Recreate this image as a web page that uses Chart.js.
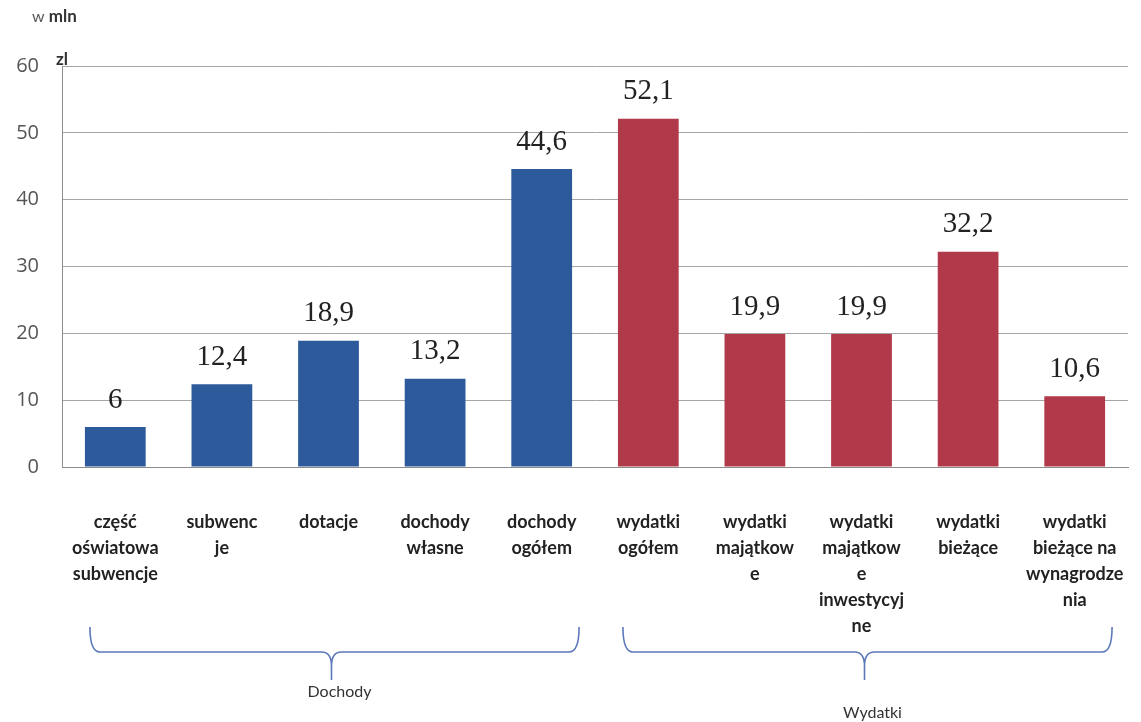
<!DOCTYPE html>
<html>
<head>
<meta charset="utf-8">
<script src="https://cdn.jsdelivr.net/npm/chart.js@4.4.1/dist/chart.umd.min.js"></script>
<style>
html,body{margin:0;padding:0;background:#fff;}
#wrap{width:1141px;height:722px;position:relative;}
</style>
</head>
<body>
<div id="wrap"><canvas id="c" width="1141" height="722"></canvas></div>
<script>
// ---- data ----
const categories = [
  ["część", "oświatowa", "subwencje"],
  ["subwenc", "je"],
  ["dotacje"],
  ["dochody", "własne"],
  ["dochody", "ogółem"],
  ["wydatki", "ogółem"],
  ["wydatki", "majątkow", "e"],
  ["wydatki", "majątkow", "e", "inwestycyj", "ne"],
  ["wydatki", "bieżące"],
  ["wydatki", "bieżące na", "wynagrodze", "nia"]
];
const values = [6, 12.4, 18.9, 13.2, 44.6, 52.1, 19.9, 19.9, 32.2, 10.6];
const groupNames = ["Dochody", "Wydatki"];
const groupStart = [0, 5];
const groupEnd = [4, 9];
const yTicks = [0, 10, 20, 30, 40, 50, 60];
const unitLabel = ["w", "mln", "zl"];

const BLUE = "#2c5a9b";
const RED = "#b03a4a";
const barColors = values.map((v, i) => i <= groupEnd[0] ? BLUE : RED);

const valueLabels = {
  id: "valueLabels",
  afterDatasetsDraw(chart) {
    const ctx = chart.ctx;
    const meta = chart.getDatasetMeta(0);
    ctx.save();
    ctx.font = '29px "Liberation Serif", serif';
    ctx.fillStyle = "#222";
    ctx.textAlign = "center";
    ctx.textBaseline = "middle";
    meta.data.forEach((bar, i) => {
      ctx.fillText(String(values[i]).replace(".", ","), bar.x, bar.y - 27);
    });
    ctx.restore();
  }
};

const braces = {
  id: "braces",
  afterDraw(chart) {
    const ctx = chart.ctx;
    const meta = chart.getDatasetMeta(0);
    ctx.save();
    ctx.strokeStyle = "#5b78b8";
    ctx.lineWidth = 1.6;
    const yTop = 627, yMid = 652, yTip = 680, r = 10;
    groupNames.forEach((name, g) => {
      const b0 = meta.data[groupStart[g]], b1 = meta.data[groupEnd[g]];
      const x0 = b0.x - b0.width / 2 + 5;
      const x1 = b1.x + b1.width / 2 + 7;
      const xm = (x0 + x1) / 2 - 3;
      ctx.beginPath();
      ctx.moveTo(x0, yTop);
      ctx.quadraticCurveTo(x0, yMid, x0 + r, yMid);
      ctx.lineTo(xm - r, yMid);
      ctx.quadraticCurveTo(xm, yMid, xm, yMid + r + 4);
      ctx.lineTo(xm, yTip);
      ctx.moveTo(xm, yMid + r + 4);
      ctx.quadraticCurveTo(xm, yMid, xm + r, yMid);
      ctx.lineTo(x1 - r, yMid);
      ctx.quadraticCurveTo(x1, yMid, x1, yTop);
      ctx.stroke();
      ctx.fillStyle = "#333";
      ctx.font = '16px Lato, sans-serif';
      ctx.textAlign = "center";
      ctx.textBaseline = "middle";
      ctx.fillText(name, xm + 8, g === 0 ? 692 : 713);
    });
    // unit label top-left
    ctx.textBaseline = "middle";
    ctx.textAlign = "left";
    ctx.fillStyle = "#555";
    ctx.font = '16px Lato, sans-serif';
    ctx.fillText(unitLabel[0], 32, 17);
    const w = ctx.measureText(unitLabel[0] + " ").width;
    ctx.fillStyle = "#333";
    ctx.font = 'bold 17px Lato, sans-serif';
    ctx.fillText(unitLabel[1], 32 + w, 17);
    ctx.fillText(unitLabel[2], 56, 60);
    ctx.restore();
  }
};

new Chart(document.getElementById("c"), {
  type: "bar",
  data: {
    labels: categories,
    datasets: [{
      data: values,
      backgroundColor: barColors,
      borderWidth: 0,
      categoryPercentage: 1.0,
      barPercentage: 0.57
    }]
  },
  options: {
    responsive: false,
    animation: false,
    devicePixelRatio: 1,
    layout: { padding: { left: 12, right: 13, top: 66, bottom: 0 } },
    plugins: { legend: { display: false }, tooltip: { enabled: false } },
    scales: {
      x: {
        grid: { display: false, drawTicks: false },
        border: { display: true, color: "#8c8c8c", width: 1 },
        ticks: {
          color: "#222",
          font: { family: "Lato, sans-serif", size: 18, weight: "bold", lineHeight: 1.45 },
          padding: 42,
          maxRotation: 0,
          autoSkip: false
        },
        afterFit(scale) { scale.height = 255; scale.paddingLeft = 0; scale.paddingRight = 0; }
      },
      y: {
        min: 0,
        max: 60,
        afterBuildTicks(scale) { scale.ticks = yTicks.map(v => ({ value: v })); },
        grid: { color: "#a6a6a6", lineWidth: 1, drawTicks: false },
        border: { display: true, color: "#8c8c8c", width: 1 },
        ticks: {
          color: "#555",
          font: { family: "'Open Sans', sans-serif", size: 20 },
          padding: 23
        },
        afterFit(scale) { scale.width = 50; scale.paddingTop = 0; scale.paddingBottom = 0; }
      }
    }
  },
  plugins: [valueLabels, braces]
});
</script>
</body>
</html>
